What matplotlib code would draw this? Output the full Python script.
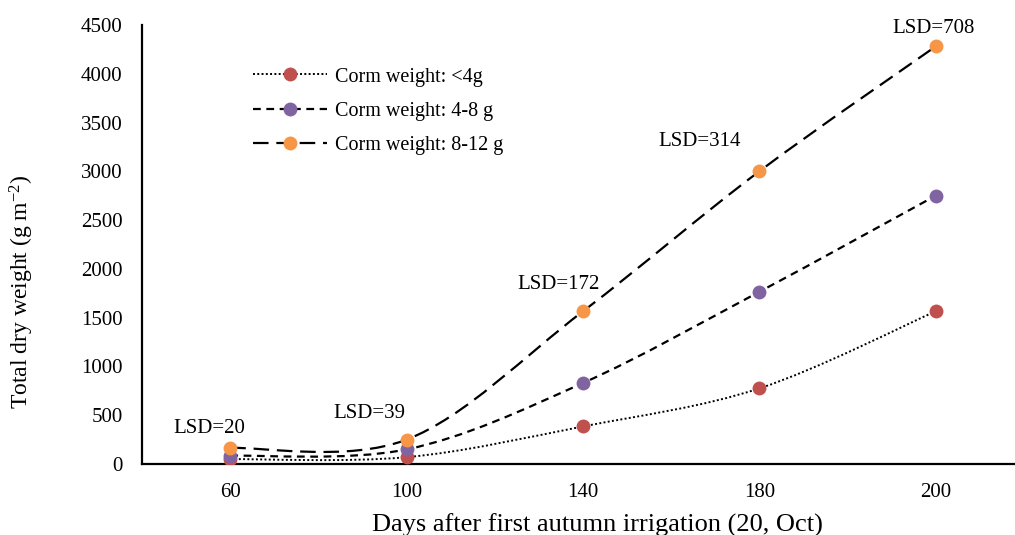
import matplotlib
matplotlib.use('Agg')
import matplotlib.pyplot as plt
from matplotlib.path import Path
from matplotlib.patches import PathPatch
from matplotlib.lines import Line2D

# Data
days = ['60', '100', '140', '180', '200']
small = [50, 70, 385, 775, 1565]        # Corm weight: <4g
medium = [85, 150, 830, 1765, 2750]     # Corm weight: 4-8 g
large = [165, 250, 1565, 3000, 4280]    # Corm weight: 8-12 g
lsd_labels = ['LSD=20', 'LSD=39', 'LSD=172', 'LSD=314', 'LSD=708']
lsd_pos = [(-0.12, 360), (0.79, 520), (1.86, 1840), (2.66, 3310), (3.99, 4460)]

plt.rcParams['font.family'] = 'Liberation Serif'
plt.rcParams['mathtext.fontset'] = 'custom'
plt.rcParams['mathtext.rm'] = 'Liberation Serif'
plt.rcParams['mathtext.it'] = 'Liberation Serif:italic'


def smooth_path(xs, ys):
    # Excel-like smoothed line: Catmull-Rom turned into cubic Bezier segments
    pts = list(zip(xs, ys))
    verts = [pts[0]]
    codes = [Path.MOVETO]
    n = len(pts)
    for i in range(n - 1):
        p0 = pts[i - 1] if i > 0 else pts[i]
        p1 = pts[i]
        p2 = pts[i + 1]
        p3 = pts[i + 2] if i + 2 < n else pts[i + 1]
        c1 = (p1[0] + (p2[0] - p0[0]) / 6, p1[1] + (p2[1] - p0[1]) / 6)
        c2 = (p2[0] - (p3[0] - p1[0]) / 6, p2[1] - (p3[1] - p1[1]) / 6)
        verts += [c1, c2, p2]
        codes += [Path.CURVE4] * 3
    return Path(verts, codes)


fig = plt.figure(figsize=(10.15, 5.35), dpi=100)
ax = fig.add_axes([0.14, 0.1327, 0.86, 0.8206])

x = list(range(len(days)))
series = [
    (small, '#C0504D', (0, (1, 1.2)), 1.4, 'Corm weight: <4g'),
    (medium, '#8064A2', (0, (3.5, 2.5)), 1.6, 'Corm weight: 4-8 g'),
    (large, '#F79646', (0, (7, 3.5)), 1.6, 'Corm weight: 8-12 g'),
]

handles = []
for vals, col, ls, lw, lab in series:
    ax.add_patch(PathPatch(smooth_path(x, vals), fill=False, edgecolor='black',
                           linestyle=ls, linewidth=lw, zorder=2))
    ax.plot(x, vals, linestyle='none', marker='o', markersize=10,
            color=col, markeredgewidth=0, zorder=3)
    handles.append(Line2D([], [], color='black', linestyle=ls, linewidth=lw,
                          marker='o', markersize=10, markerfacecolor=col,
                          markeredgewidth=0, label=lab))

for txt, (tx, ty) in zip(lsd_labels, lsd_pos):
    ax.text(tx, ty, txt, ha='center', va='center', fontsize=15)

ax.set_xlim(-0.5, 4.45)
ax.set_ylim(0, 4500)
ax.set_xticks(x)
ax.set_xticklabels(days)
ax.set_yticks(range(0, 4501, 500))
ax.tick_params(axis='both', length=0, labelsize=15)
ax.tick_params(axis='x', pad=14)
ax.tick_params(axis='y', pad=14)

for s in ['top', 'right']:
    ax.spines[s].set_visible(False)
for s in ['left', 'bottom']:
    ax.spines[s].set_linewidth(1.6)

ax.set_xlabel('Days after first autumn irrigation (20, Oct)', fontsize=19)
ax.set_ylabel('Total dry weight (g m$^{-2}$)', fontsize=17)
ax.xaxis.set_label_coords(0.522, -0.112)
ax.yaxis.set_label_coords(-0.121, 0.392)

fig.legend(handles=handles, loc='upper left', bbox_to_anchor=(0.249, 0.874),
           frameon=False, fontsize=14.5, handlelength=3.7, handletextpad=0.4,
           labelspacing=0.75, borderpad=0, borderaxespad=0, numpoints=1)

fig.savefig('out.png', dpi=100)
